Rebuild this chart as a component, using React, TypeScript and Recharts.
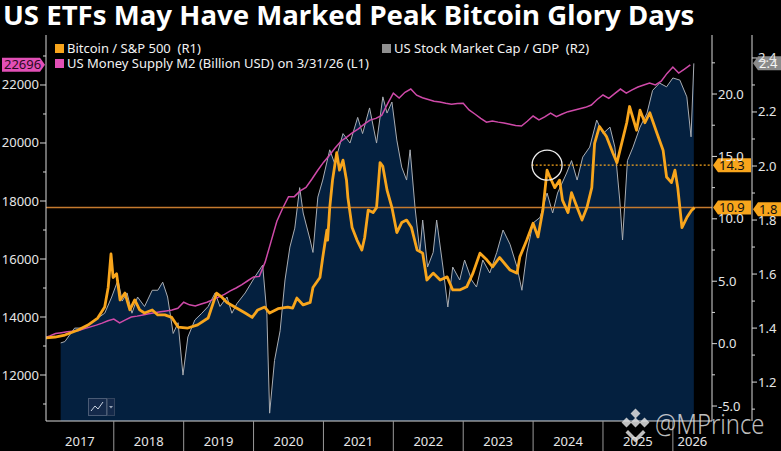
import React from 'react';
import { ComposedChart, Line, Area, XAxis, YAxis, ReferenceLine, ReferenceDot } from 'recharts';

// ---------- layout constants ----------
const CHART_W = 781;
const CHART_H = 451;
const TOP = 35;
const X_AXIS_H = 30;
const LEFT_W = 46;
const R1_W = 40;
const R2_W = 29;
const X_MIN = 2017.03;
const X_MAX = 2026.56;
const PLOT_W = CHART_W - LEFT_W - R1_W - R2_W;
const PX_PER_YEAR = PLOT_W / (X_MAX - X_MIN);

const FONT = '"Noto Sans", "DejaVu Sans", sans-serif';
const ORANGE = '#f8a51c';
const PINK = '#cf4aa9';
const NAVY = '#04203f';
const GREY = '#a9adb3';

// ---------- data ----------
const years = [2017, 2018, 2019, 2020, 2021, 2022, 2023, 2024, 2025, 2026];
const l1Ticks = [11000, 12000, 13000, 14000, 15000, 16000, 17000, 18000, 19000, 20000, 21000, 22000, 23000];
const r1Ticks = [-5, -2.5, 0, 2.5, 5, 7.5, 10, 12.5, 15, 17.5, 20, 22.5];
const r2Ticks = [1.1, 1.2, 1.3, 1.4, 1.5, 1.6, 1.7, 1.8, 1.9, 2.0, 2.1, 2.2, 2.3, 2.4];

// US Money Supply M2 (billion USD), monthly from Jan 2017 to Apr 2026
const m2Start = 2017.0;
const m2Values = [
  13276, 13350, 13430, 13460, 13490, 13510, 13530, 13600, 13660, 13720, 13790, 13870,
  13930, 13800, 13900, 14000, 14030, 14070, 14110, 14150, 14180, 14210, 14240, 14300,
  14510, 14420, 14380, 14450, 14510, 14600, 14690, 14780, 14900, 15000, 15120, 15250,
  15380, 15400, 15900, 16600, 17300, 17750, 18150, 18150, 18350, 18470, 18750, 19050,
  19330, 19570, 19830, 20060, 20200, 20360, 20490, 20650, 20790, 20850, 20950, 21350,
  21720, 21550, 21750, 21860, 21650, 21560, 21500, 21440, 21410, 21370, 21340, 21360,
  21370, 21140, 21000, 20850, 20720, 20760, 20720, 20690, 20650, 20600, 20586, 20750,
  20930, 20800, 20900, 21030, 20910, 21000, 21080, 21130, 21180, 21230, 21310, 21500,
  21655, 21540, 21700, 21860, 21720, 21830, 21930, 22000, 22070, 22000, 22130, 22400,
  22620, 22410, 22550, 22696,
];

// Bitcoin / S&P 500 ratio (R1): [decimal year, value]
const btcSeries: [number, number][] = [
  [2017.01, 0.45], [2017.16, 0.53], [2017.30, 0.69], [2017.49, 1.09], [2017.63, 1.49], [2017.77, 2.05],
  [2017.87, 2.93], [2017.92, 4.5], [2017.96, 7.18], [2017.99, 5.3], [2018.04, 5.6], [2018.09, 3.5],
  [2018.16, 4.05], [2018.23, 2.7], [2018.30, 3.5], [2018.37, 2.7], [2018.44, 2.45], [2018.55, 2.7],
  [2018.63, 2.3], [2018.73, 2.3], [2018.83, 2.1], [2018.92, 1.33], [2019.06, 1.25], [2019.20, 1.5],
  [2019.35, 2.05], [2019.47, 4.05], [2019.55, 3.7], [2019.62, 3.3], [2019.73, 2.93], [2019.88, 2.45],
  [2019.98, 2.1], [2020.06, 2.7], [2020.16, 2.93], [2020.23, 2.45], [2020.35, 2.8], [2020.49, 2.93],
  [2020.56, 2.85], [2020.62, 3.65], [2020.71, 3.1], [2020.81, 3.3], [2020.85, 4.5], [2020.95, 5.3],
  [2020.99, 6.9], [2021.05, 9.1], [2021.06, 8.3], [2021.09, 10.9], [2021.13, 13.1], [2021.19, 15.3],
  [2021.23, 13.9], [2021.28, 14.7], [2021.33, 13.1], [2021.35, 11.7], [2021.41, 9.3], [2021.48, 8.3],
  [2021.55, 7.5], [2021.59, 8.5], [2021.64, 10.7], [2021.71, 10.5], [2021.76, 10.9], [2021.81, 14.5],
  [2021.85, 14.2], [2021.91, 12.3], [2021.98, 10.9], [2022.05, 8.9], [2022.12, 9.7], [2022.19, 9.9],
  [2022.26, 9.3], [2022.34, 7.5], [2022.42, 7.25], [2022.48, 5.1], [2022.57, 5.65], [2022.67, 5.1],
  [2022.77, 5.35], [2022.85, 4.3], [2022.95, 4.3], [2023.05, 4.55], [2023.14, 5.65], [2023.24, 7.25],
  [2023.34, 6.7], [2023.42, 6.15], [2023.52, 6.9], [2023.67, 5.9], [2023.77, 5.65], [2023.81, 6.95],
  [2023.91, 8.3], [2024.00, 9.65], [2024.07, 8.55], [2024.14, 10.7], [2024.20, 13.9], [2024.24, 13.35],
  [2024.31, 12.5], [2024.38, 13.1], [2024.42, 11.5], [2024.50, 10.5], [2024.55, 12.1], [2024.63, 10.9],
  [2024.70, 9.9], [2024.77, 10.9], [2024.84, 12.5], [2024.88, 16.05], [2024.95, 17.4], [2025.05, 16.6],
  [2025.14, 15.3], [2025.20, 14.5], [2025.27, 16.1], [2025.34, 17.7], [2025.38, 19.0], [2025.48, 17.1],
  [2025.53, 18.7], [2025.60, 17.7], [2025.67, 18.5], [2025.77, 16.9], [2025.86, 15.5], [2025.91, 13.35],
  [2025.98, 12.9], [2026.03, 13.9], [2026.07, 12.5], [2026.13, 9.3], [2026.20, 10.1], [2026.27, 10.7],
  [2026.31, 10.9],
];

// US Stock Market Cap / GDP (R2): [decimal year, value]
const capGdpSeries: [number, number][] = [
  [2017.24, 1.345], [2017.30, 1.35], [2017.44, 1.40], [2017.59, 1.40], [2017.73, 1.43], [2017.87, 1.455],
  [2017.97, 1.515], [2018.06, 1.578], [2018.12, 1.50], [2018.19, 1.53], [2018.26, 1.455], [2018.34, 1.515],
  [2018.44, 1.48], [2018.55, 1.54], [2018.63, 1.54], [2018.70, 1.57], [2018.77, 1.515], [2018.85, 1.38],
  [2018.92, 1.42], [2018.99, 1.226], [2019.06, 1.367], [2019.16, 1.43], [2019.26, 1.455], [2019.35, 1.48],
  [2019.45, 1.53], [2019.52, 1.48], [2019.62, 1.515], [2019.69, 1.455], [2019.76, 1.49], [2019.88, 1.53],
  [2020.02, 1.59], [2020.13, 1.633], [2020.19, 1.455], [2020.23, 1.085], [2020.30, 1.28], [2020.38, 1.39],
  [2020.45, 1.578], [2020.52, 1.70], [2020.59, 1.77], [2020.66, 1.92], [2020.71, 1.826], [2020.81, 1.726],
  [2020.85, 1.68], [2020.92, 1.885], [2020.99, 1.948], [2021.09, 2.06], [2021.16, 2.01], [2021.28, 2.12],
  [2021.38, 2.085], [2021.49, 2.18], [2021.56, 2.12], [2021.66, 2.215], [2021.76, 2.085], [2021.85, 2.256],
  [2021.91, 2.196], [2021.98, 2.237], [2022.05, 2.096], [2022.12, 1.996], [2022.19, 1.948], [2022.24, 2.06],
  [2022.31, 1.848], [2022.38, 1.68], [2022.42, 1.80], [2022.49, 1.626], [2022.57, 1.68], [2022.62, 1.80],
  [2022.71, 1.626], [2022.78, 1.478], [2022.85, 1.626], [2022.95, 1.578], [2023.02, 1.652], [2023.12, 1.578],
  [2023.19, 1.552], [2023.28, 1.652], [2023.38, 1.604], [2023.48, 1.68], [2023.57, 1.763], [2023.67, 1.71],
  [2023.77, 1.626], [2023.84, 1.54], [2023.91, 1.678], [2024.00, 1.789], [2024.10, 1.81], [2024.20, 1.90],
  [2024.28, 1.826], [2024.35, 1.90], [2024.48, 1.974], [2024.55, 2.02], [2024.63, 1.948], [2024.71, 2.033],
  [2024.81, 2.07], [2024.91, 2.17], [2025.00, 2.12], [2025.10, 2.144], [2025.17, 2.07], [2025.24, 1.874],
  [2025.28, 1.726], [2025.35, 2.02], [2025.43, 2.07], [2025.53, 2.144], [2025.63, 2.196], [2025.71, 2.28],
  [2025.81, 2.307], [2025.91, 2.293], [2026.00, 2.326], [2026.10, 2.318], [2026.20, 2.256], [2026.26, 2.108],
  [2026.30, 2.38],
];

// annotations
const peakMarker = { t: 2024.2, v: 14.3, lineFrom: 2023.98 };
const currentLevelR2 = 1.84;

// ---------- derived tables ----------
const m2Data = m2Values.map((v, i) => ({ t: m2Start + i / 12, v }));
const btcData = btcSeries.map(([t, v]) => ({ t, v }));
const capData = capGdpSeries.map(([t, v]) => ({ t, v }));
const lastBtc = btcSeries[btcSeries.length - 1][1];
const lastCap = capGdpSeries[capGdpSeries.length - 1][1];
const lastM2 = m2Values[m2Values.length - 1];
const yearLabelTicks = years.map((y) => (Math.max(y, X_MIN) + Math.min(y + 1, X_MAX)) / 2);

const TICK_COLOR = '#e6e6e6';
const AXIS_COLOR = '#d9d9d9';

// ---------- ticks ----------
const XTick = (props: any) => {
  const { x, y, payload } = props;
  const mid = payload.value as number;
  const year = Math.floor(mid);
  const divX = x - (mid - year) * PX_PER_YEAR;
  return (
    <g>
      {year > X_MIN && <line x1={divX} x2={divX} y1={y} y2={y + X_AXIS_H} stroke="#9a9a9a" strokeWidth={1} />}
      <text x={x} y={y + 25} textAnchor="middle" fill={TICK_COLOR} fontSize={13} fontFamily={FONT}>
        {year}
      </text>
    </g>
  );
};

const LeftTick = (props: any) => {
  const { x, y, payload } = props;
  const v = payload.value as number;
  const major = v % 2000 === 0;
  return (
    <g>
      <line x1={x} x2={x - (major ? 6 : 3)} y1={y} y2={y} stroke={AXIS_COLOR} />
      {major && (
        <text x={x - 7} y={y + 4.5} textAnchor="end" fill={TICK_COLOR} fontSize={13} fontFamily={FONT}>
          {v}
        </text>
      )}
    </g>
  );
};

const makeRightTick = (isMajor: (v: number) => boolean) => (props: any) => {
  const { x, y, payload } = props;
  const v = payload.value as number;
  const major = isMajor(v);
  return (
    <g>
      <line x1={x} x2={x + (major ? 5 : 3)} y1={y} y2={y} stroke={AXIS_COLOR} />
      {major && (
        <text x={x + 6} y={y + 4.5} textAnchor="start" fill={TICK_COLOR} fontSize={13} fontFamily={FONT}>
          {v.toFixed(1)}
        </text>
      )}
    </g>
  );
};
const R1Tick = makeRightTick((v) => Math.abs(v % 5) < 1e-9);
const R2Tick = makeRightTick((v) => Math.round(v * 10) % 2 === 0);

// ---------- badges ----------
const Badge = ({ x, y, w, text, fill, color, pointLeft }: any) => {
  const h = 14;
  const n = 5;
  const pts = pointLeft
    ? [[x + 1, y], [x + 1 + n, y - h / 2], [x + w, y - h / 2], [x + w, y + h / 2], [x + 1 + n, y + h / 2]]
    : [[x - 1, y], [x - 1 - n, y - h / 2], [x - w, y - h / 2], [x - w, y + h / 2], [x - 1 - n, y + h / 2]];
  const tx = pointLeft ? x + n + 2 : x - w + 2;
  return (
    <g>
      <polygon points={pts.map((p) => p.join(',')).join(' ')} fill={fill} />
      <text x={tx} y={y + 4.6} fill={color} fontSize={13} fontFamily={FONT}>
        {text}
      </text>
    </g>
  );
};

const rightBadge = (text: string, fill: string, color: string, extra: number, w: number) => (p: any) => {
  const vb = p.viewBox || {};
  return <Badge x={vb.x + vb.width + extra} y={vb.y} w={w} text={text} fill={fill} color={color} pointLeft />;
};

const leftBadge = (text: string, fill: string, color: string, w: number) => (p: any) => {
  const vb = p.viewBox || {};
  return <Badge x={vb.x} y={vb.y} w={w} text={text} fill={fill} color={color} pointLeft={false} />;
};

// ---------- overlays ----------
const LegendItem = ({ left, top, color, label }: any) => (
  <div
    style={{
      position: 'absolute',
      left,
      top,
      height: 16,
      display: 'flex',
      alignItems: 'center',
      fontFamily: FONT,
      fontSize: 13,
      color: '#f2f2f2',
      whiteSpace: 'pre',
    }}
  >
    <span style={{ display: 'inline-block', width: 9, height: 9, background: color, marginRight: 3 }} />
    {label}
  </div>
);

export default function App() {
  return (
    <div
      style={{
        position: 'absolute',
        left: 0,
        top: 0,
        width: CHART_W,
        height: CHART_H,
        background: '#000',
        overflow: 'hidden',
      }}
    >
      <ComposedChart
        width={CHART_W}
        height={CHART_H}
        margin={{ top: TOP, right: 0, bottom: 0, left: 0 }}
        style={{ position: 'absolute', left: 0, top: 0 }}
      >
        <XAxis
          dataKey="t"
          type="number"
          domain={[X_MIN, X_MAX]}
          allowDataOverflow
          ticks={yearLabelTicks}
          interval={0}
          height={X_AXIS_H}
          tickSize={0}
          tickMargin={0}
          tickLine={false}
          axisLine={{ stroke: AXIS_COLOR }}
          tick={(p: any) => <XTick {...p} />}
        />
        <YAxis
          yAxisId="l1"
          orientation="left"
          type="number"
          domain={[10414, 23724]}
          allowDataOverflow
          ticks={l1Ticks}
          interval={0}
          width={LEFT_W}
          tickSize={0}
          tickMargin={0}
          tickLine={false}
          axisLine={{ stroke: AXIS_COLOR }}
          tick={(p: any) => <LeftTick {...p} />}
        />
        <YAxis
          yAxisId="r1"
          orientation="right"
          type="number"
          domain={[-6.2, 24.73]}
          allowDataOverflow
          ticks={r1Ticks}
          interval={0}
          width={R1_W}
          tickSize={0}
          tickMargin={0}
          tickLine={false}
          axisLine={{ stroke: AXIS_COLOR }}
          tick={(p: any) => <R1Tick {...p} />}
        />
        <YAxis
          yAxisId="r2"
          orientation="right"
          type="number"
          domain={[1.056, 2.485]}
          allowDataOverflow
          ticks={r2Ticks}
          interval={0}
          width={R2_W}
          tickSize={0}
          tickMargin={0}
          tickLine={false}
          axisLine={{ stroke: AXIS_COLOR }}
          tick={(p: any) => <R2Tick {...p} />}
        />

        <Area
          yAxisId="r2"
          data={capData}
          dataKey="v"
          type="linear"
          stroke={GREY}
          strokeWidth={1}
          fill={NAVY}
          fillOpacity={1}
          isAnimationActive={false}
          dot={false}
          activeDot={false}
        />
        <Line
          yAxisId="l1"
          data={m2Data}
          dataKey="v"
          type="linear"
          stroke={PINK}
          strokeWidth={1.5}
          dot={false}
          activeDot={false}
          isAnimationActive={false}
        />
        <ReferenceLine
          yAxisId="r1"
          y={lastBtc}
          stroke="#c57a2e"
          strokeWidth={1.5}
          label={rightBadge(lastBtc.toFixed(1), ORANGE, '#111', 0, R1_W - 1)}
        />
        <ReferenceLine
          yAxisId="r2"
          y={currentLevelR2}
          stroke="none"
          label={rightBadge(currentLevelR2.toFixed(1), ORANGE, '#111', R1_W, R2_W)}
        />
        <Line
          yAxisId="r1"
          data={btcData}
          dataKey="v"
          type="linear"
          stroke={ORANGE}
          strokeWidth={2.8}
          strokeLinejoin="round"
          dot={false}
          activeDot={false}
          isAnimationActive={false}
        />
        <ReferenceLine
          yAxisId="r1"
          segment={[
            { x: peakMarker.lineFrom, y: peakMarker.v },
            { x: X_MAX, y: peakMarker.v },
          ]}
          stroke={ORANGE}
          strokeWidth={1.2}
          strokeDasharray="2 2"
          label={rightBadge(peakMarker.v.toFixed(1), ORANGE, '#111', 0, R1_W - 1)}
        />
        <ReferenceDot
          yAxisId="r1"
          x={peakMarker.t}
          y={peakMarker.v}
          r={15}
          fill="none"
          stroke="#f0f0f0"
          strokeWidth={1.3}
        />
        <ReferenceLine
          yAxisId="r2"
          y={lastCap}
          stroke="none"
          label={rightBadge(lastCap.toFixed(1), '#8a8a8a', '#f5f5f5', R1_W, R2_W)}
        />
        <ReferenceLine
          yAxisId="l1"
          y={lastM2}
          stroke="none"
          label={leftBadge(String(lastM2), '#e24fb6', '#2a0a22', LEFT_W - 2)}
        />
      </ComposedChart>

      {/* title */}
      <div
        style={{
          position: 'absolute',
          left: 3,
          top: 0,
          fontFamily: FONT,
          fontWeight: 700,
          fontSize: 27.6,
          lineHeight: '28px',
          color: '#ffffff',
          whiteSpace: 'nowrap',
        }}
      >
        US ETFs May Have Marked Peak Bitcoin Glory Days
      </div>

      {/* legend */}
      <LegendItem left={55} top={40} color={ORANGE} label="Bitcoin / S&P 500  (R1)" />
      <LegendItem left={382} top={40} color="#8f8f8f" label="US Stock Market Cap / GDP  (R2)" />
      <LegendItem left={55} top={55} color="#e24fb6" label="US Money Supply M2 (Billion USD) on 3/31/26 (L1)" />

      {/* small chart-type widget */}
      <svg style={{ position: 'absolute', left: 88, top: 398 }} width={28} height={20}>
        <rect x={0.5} y={0.5} width={18} height={17} fill="#14294a" stroke="#4a5b75" />
        <polyline points="3,13 7,8 10,11 15,4" fill="none" stroke="#c9d2e0" strokeWidth={1} />
        <rect x={19.5} y={0.5} width={7} height={17} fill="#14294a" stroke="#33445e" />
        <polygon points="21,8 25,8 23,10.5" fill="#9aa6b8" />
      </svg>

      {/* watermark */}
      <svg style={{ position: 'absolute', left: 618, top: 408 }} width={36} height={36}>
        <g fill="rgba(225,225,225,0.85)">
          <rect x={14} y={2} width={7} height={7} transform="rotate(45 17.5 5.5)" />
          <rect x={5} y={11} width={7} height={7} transform="rotate(45 8.5 14.5)" />
          <rect x={23} y={11} width={7} height={7} transform="rotate(45 26.5 14.5)" />
          <rect x={14} y={11} width={7} height={7} transform="rotate(45 17.5 14.5)" />
          <polygon points="10,22 17.5,29.5 25,22 27.5,24.5 17.5,34.5 7.5,24.5" />
        </g>
      </svg>
      <div
        style={{
          position: 'absolute',
          left: 655,
          top: 405,
          fontFamily: FONT,
          fontSize: 28,
          fontWeight: 300,
          color: 'rgba(225,225,225,0.85)',
          whiteSpace: 'nowrap',
          lineHeight: '36px',
          transform: 'scaleX(0.85)',
          transformOrigin: 'left center',
        }}
      >
        @MPrince
      </div>
    </div>
  );
}
